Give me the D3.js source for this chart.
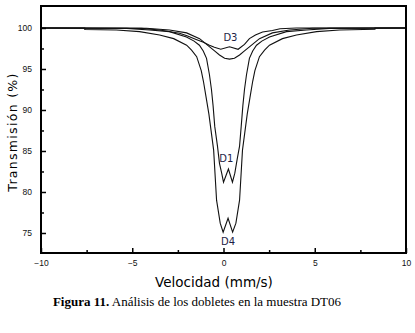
<!DOCTYPE html>
<html>
<head>
<meta charset="utf-8">
<script src="https://cdn.jsdelivr.net/npm/d3@7"></script>
<style>
  body { margin: 0; background: #fff; }
  svg { display: block; }
</style>
</head>
<body>
<div id="chart"></div>
<script>
// Velocity (mm/s) and transmission (%)
const d4Vel = [-10, -7.6, -7.6, -5.86, -4.6, -3.5, -2.73, -2.02, -1.75, -1.47, -1.22, -1.1, -0.95, -0.8, -0.54, -0.38, -0.18, -0.02, 0.25, 0.5, 0.68, 0.88, 1.04, 1.3, 1.45, 1.6, 1.72, 1.97, 2.25, 2.52, 3.23, 4.0, 5.1, 6.36, 8.3, 8.3, 10];
const d4Trans = [100, 100, 99.82, 99.75, 99.55, 99.15, 98.7, 97.9, 97.3, 96.5, 94.8, 93.5, 91.5, 89.5, 85.1, 79.0, 76.2, 75.1, 76.8, 75.1, 76.2, 79.0, 85.1, 89.5, 91.5, 93.5, 94.8, 96.5, 97.3, 97.9, 98.7, 99.15, 99.55, 99.75, 99.85, 100, 100];

const d1Vel = [-10, -5.3, -4.06, -2.96, -2.03, -1.61, -1.32, -1.11, -0.93, -0.77, -0.66, -0.57, -0.48, -0.33, -0.22, -0.1, 0.0, 0.27, 0.49, 0.62, 0.75, 0.88, 0.97, 1.06, 1.15, 1.26, 1.42, 1.6, 1.81, 2.1, 2.52, 3.45, 4.55, 5.8, 10];
const d1Trans = [100, 99.95, 99.75, 99.55, 98.9, 98.4, 97.9, 97.2, 96.3, 94.3, 92.5, 90.5, 88.0, 85.6, 83.5, 82.3, 81.2, 82.8, 81.2, 82.3, 84.0, 85.6, 88.0, 90.5, 92.5, 94.3, 96.3, 97.2, 97.9, 98.4, 98.9, 99.55, 99.75, 99.95, 100];

const d2Vel = [-10, -4.22, -2.96, -2.02, -1.31, -0.76, -0.49, -0.22, 0.06, 0.33, 0.6, 0.88, 1.15, 1.42, 1.97, 2.68, 3.62, 4.88, 10];
const d2Trans = [100, 99.96, 99.75, 99.4, 98.7, 97.7, 97.2, 96.7, 96.3, 96.2, 96.3, 96.7, 97.2, 97.7, 98.7, 99.4, 99.75, 99.96, 100];

const d3Vel = [-10, -4.5, -3.5, -2.41, -2.0, -1.5, -1.1, -0.77, -0.5, -0.15, 0.33, 0.8, 1.15, 1.42, 1.75, 2.14, 2.68, 3.1, 4.0, 10];
const d3Trans = [100, 99.95, 99.75, 99.35, 99.05, 98.6, 98.25, 97.9, 97.65, 97.4, 97.7, 97.4, 98.0, 98.7, 99.15, 99.5, 99.7, 99.9, 100, 100];

const xTicks = [-10, -5, 0, 5, 10];
const yTicks = [75, 80, 85, 90, 95, 100];

const labels = [
  { text: "D3", v: 0.38, t: 98.4 },
  { text: "D1", v: 0.15, t: 83.66 },
  { text: "D4", v: 0.25, t: 73.5 }
];

const width = 415, height = 333;
const margin = { top: 6, right: 9, bottom: 80, left: 41 };
const plotW = width - margin.left - margin.right;
const plotH = height - margin.top - margin.bottom;

const x = d3.scaleLinear().domain([-10, 10]).range([0, plotW]);
const y = d3.scaleLinear().domain([72.56, 102.68]).range([plotH, 0]);

const svg = d3.select("#chart").append("svg")
  .attr("width", width)
  .attr("height", height);

const g = svg.append("g")
  .attr("transform", `translate(${margin.left},${margin.top})`);

// curves
const line = d3.line()
  .x(d => x(d[0]))
  .y(d => y(d[1]));

const series = [
  [d4Vel, d4Trans],
  [d1Vel, d1Trans],
  [d2Vel, d2Trans],
  [d3Vel, d3Trans]
];

series.forEach(([vel, trans]) => {
  g.append("path")
    .datum(d3.zip(vel, trans))
    .attr("fill", "none")
    .attr("stroke", "#111")
    .attr("stroke-width", 1.1)
    .attr("d", line);
});

// doublet labels
g.selectAll("text.lbl")
  .data(labels)
  .join("text")
  .attr("class", "lbl")
  .attr("x", d => x(d.v))
  .attr("y", d => y(d.t))
  .attr("text-anchor", "middle")
  .attr("font-family", "DejaVu Sans, Verdana, sans-serif")
  .attr("font-size", 10)
  .attr("fill", "#1e1e46")
  .text(d => d.text);

// axes: ticks point inward
const xAxis = d3.axisBottom(x)
  .tickValues(xTicks)
  .tickSize(-5)
  .tickPadding(7)
  .tickFormat(d3.format("d"));

const xMinor = d3.axisBottom(x)
  .tickValues([-7.5, -2.5, 2.5, 7.5])
  .tickSize(-3)
  .tickFormat("");

const yAxis = d3.axisLeft(y)
  .tickValues(yTicks)
  .tickSize(-5)
  .tickPadding(9)
  .tickFormat(d3.format("d"));

const yMinor = d3.axisLeft(y)
  .tickValues([77.5, 82.5, 87.5, 92.5, 97.5])
  .tickSize(-3)
  .tickFormat("");

function styleAxis(sel) {
  sel.select(".domain").remove();
  sel.selectAll("line").attr("stroke", "#000").attr("stroke-width", 1.5);
  sel.selectAll("text")
    .attr("font-family", "Liberation Sans, Arial, sans-serif")
    .attr("font-size", 8.5)
    .attr("fill", "#111");
}

g.append("g").attr("transform", `translate(0,${plotH})`).call(xAxis).call(styleAxis);
g.append("g").attr("transform", `translate(0,${plotH})`).call(xMinor).call(styleAxis);
g.append("g").call(yAxis).call(styleAxis);
g.append("g").call(yMinor).call(styleAxis);

// frame
g.append("rect")
  .attr("width", plotW)
  .attr("height", plotH)
  .attr("fill", "none")
  .attr("stroke", "#000")
  .attr("stroke-width", 2);

// axis titles
svg.append("text")
  .attr("x", 214)
  .attr("y", 287)
  .attr("text-anchor", "middle")
  .attr("font-family", "DejaVu Sans, sans-serif")
  .attr("font-size", 13.5)
  .attr("fill", "#000")
  .text("Velocidad (mm/s)");

svg.append("text")
  .attr("transform", "translate(17,132) rotate(-90)")
  .attr("text-anchor", "middle")
  .attr("font-family", "DejaVu Sans, sans-serif")
  .attr("font-size", 12.5)
  .attr("letter-spacing", 1.3)
  .attr("fill", "#000")
  .text("Transmisión (%)");

// caption
const cap = svg.append("text")
  .attr("x", 197)
  .attr("y", 306)
  .attr("text-anchor", "middle")
  .attr("font-family", "Liberation Serif, Times New Roman, serif")
  .attr("font-size", 13)
  .attr("fill", "#000");
cap.append("tspan").attr("font-weight", "bold").text("Figura 11.");
cap.append("tspan").text(" Análisis de los dobletes en la muestra DT06");
</script>
</body>
</html>
